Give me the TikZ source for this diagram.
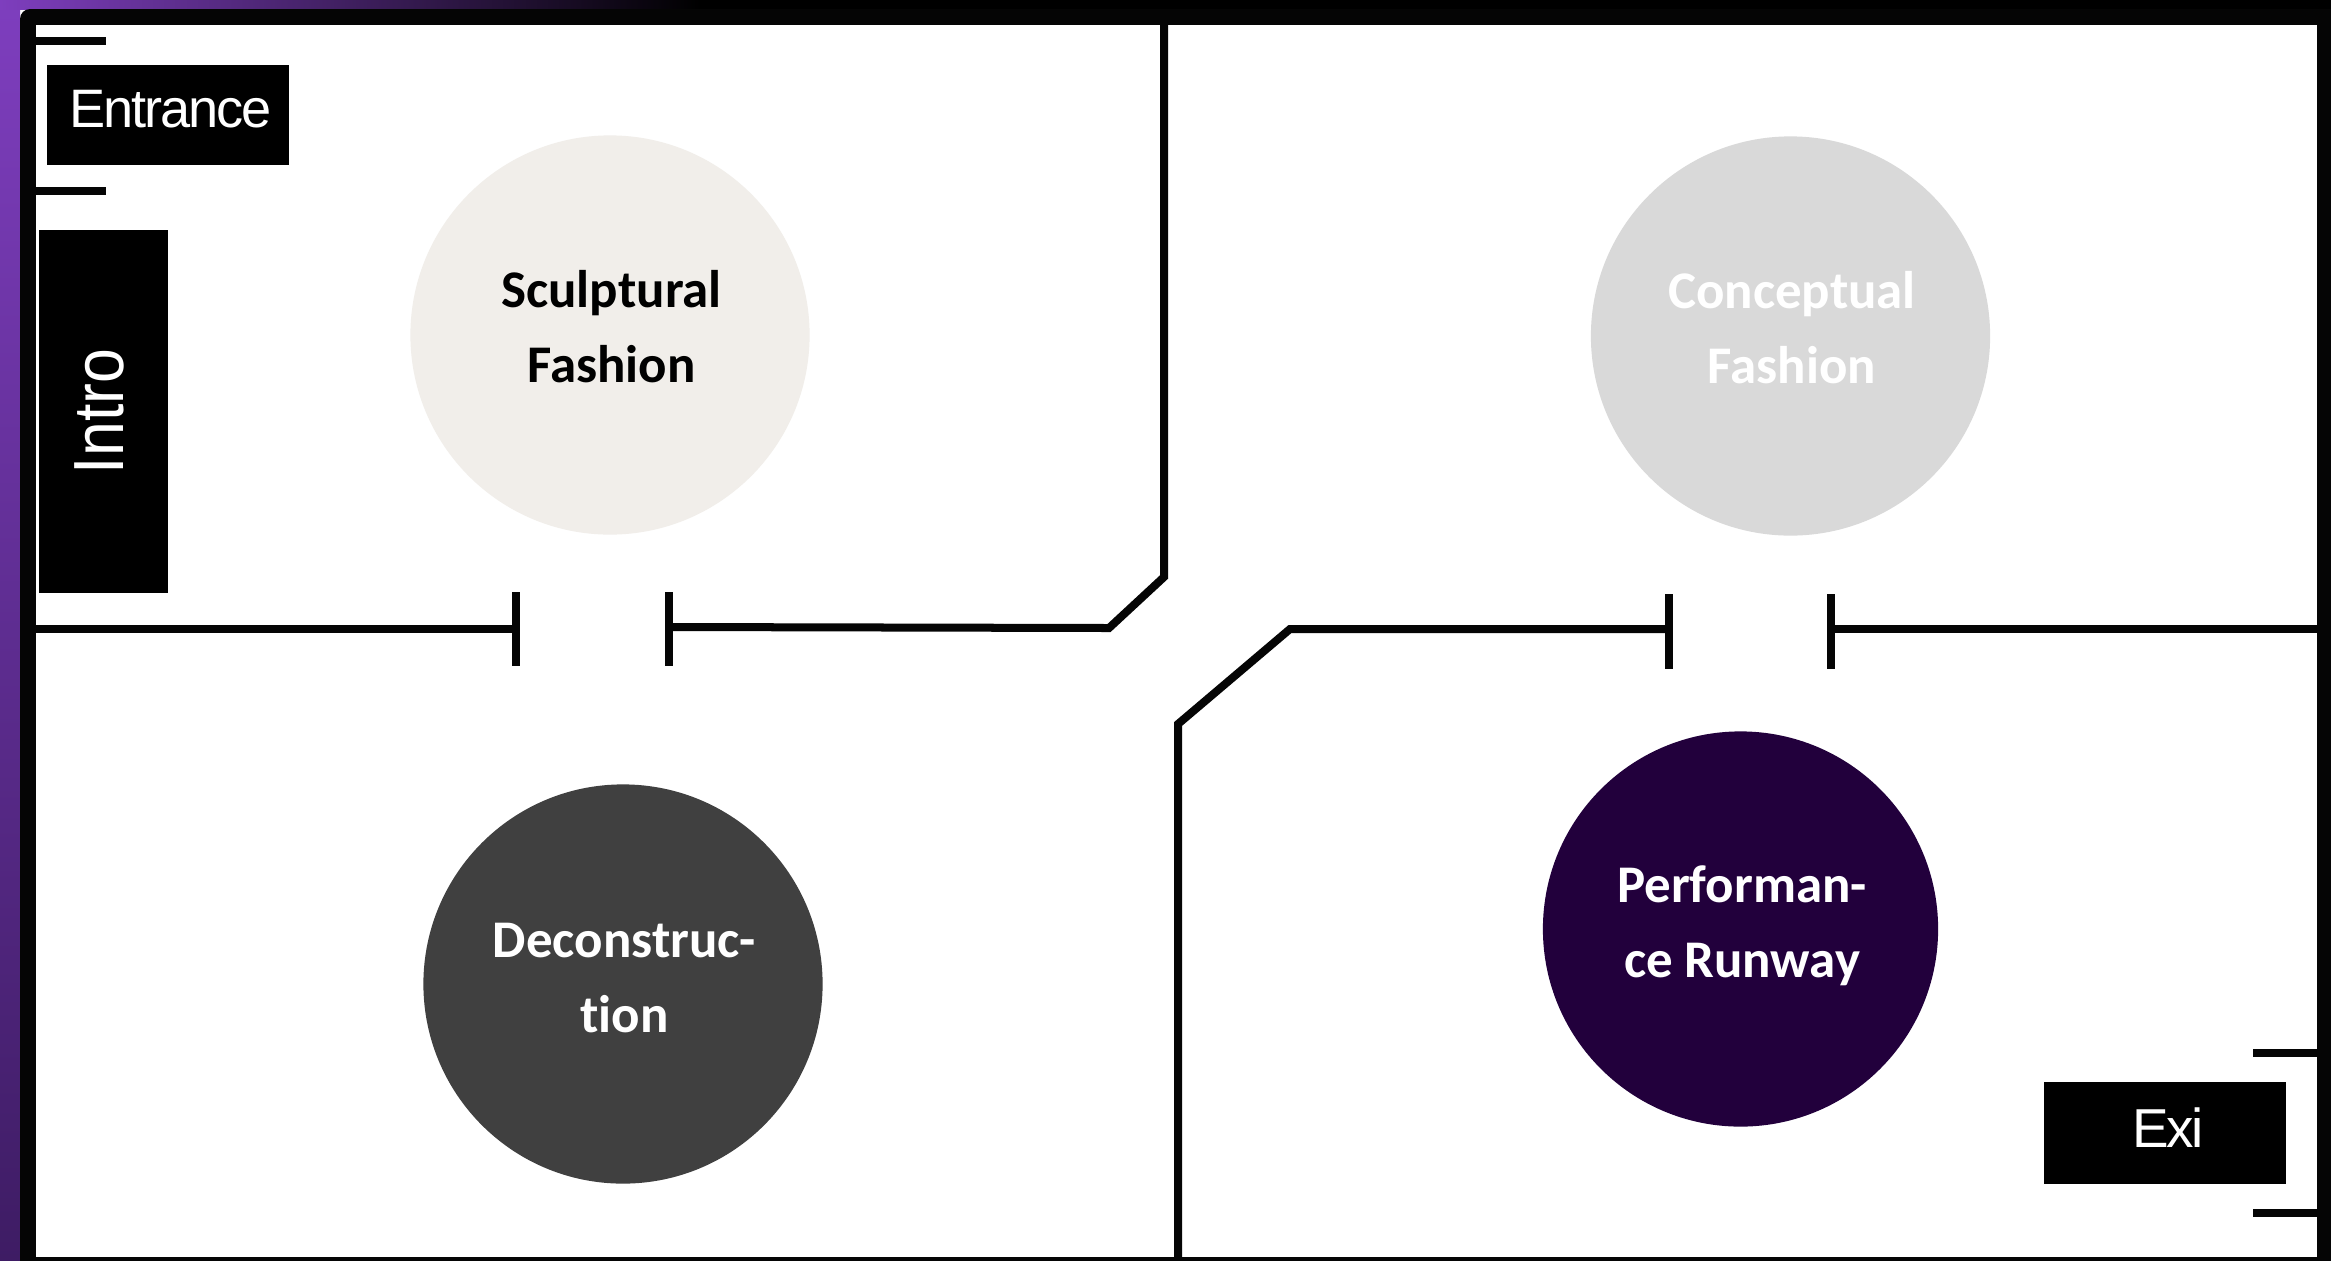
\documentclass[tikz,border=0pt]{standalone}
\usepackage{fontspec}
\setmainfont{Liberation Sans}
\newfontfamily\signfont[LetterSpace=-4]{Liberation Sans}
\newfontfamily\carlitofont[Ligatures=NoCommon]{Carlito}
\usetikzlibrary{positioning, calc}
\definecolor{FrameBlack}{HTML}{050505}
\definecolor{BrightPurple}{HTML}{8C45CC}
\definecolor{TopPurple}{HTML}{7E3EBE}
\definecolor{DarkPurple}{HTML}{3E1C64}
\definecolor{Ivory}{HTML}{F1EEEA}
\definecolor{LightGray}{HTML}{D9D9D9}
\definecolor{Charcoal}{HTML}{404040}
\definecolor{Aubergine}{HTML}{22003C}

\begin{document}
\begin{tikzpicture}[
    x=0.01cm, y=-0.01cm,
    wall/.style={draw=FrameBlack, line width=0.08cm},
    room/.style={circle, minimum size=3.99cm, inner sep=0pt},
    roomtext/.style={inner sep=0pt, align=center, xshift=0.015cm,
                 font=\carlitofont\fontsize{15.05}{21.3}\selectfont\bfseries},
    sign/.style={rectangle, fill=black, text=white, inner sep=0pt,
                 font=\signfont\fontsize{15.6}{18}\selectfont}
]
    \useasboundingbox (0,0) rectangle (2331,1260);

    % Backdrop and frame
    \shade[top color=TopPurple, middle color=BrightPurple, bottom color=DarkPurple] (0,0) rectangle (20,1260);
    \shade[left color=TopPurple, right color=black] (0,0) rectangle (700,9);
    \fill[black] (700,0) rectangle (2331,9);
    \fill[FrameBlack, rounded corners=0.1cm] (20,9) rectangle (2350,1280);
    \fill[white] (36,25) rectangle (2317,1257);

    % Rooms
    \node[room, fill=Ivory] (sculptural) at (610,335) {};
    \node[roomtext, yshift=0.085cm] (sculpturaltext) at (sculptural) {Sculptural\\Fashion};
    \node[room, fill=LightGray] (conceptual) at (1790.5,336) {};
    \node[roomtext, yshift=0.085cm, text=white] (conceptualtext) at (conceptual) {Conceptual\\Fashion};
    \node[room, fill=Charcoal] (deconstruction) at (623,984) {};
    \node[roomtext, yshift=0.06cm, text=white] (deconstructiontext) at (deconstruction) {Deconstruc-\\tion};
    \node[room, fill=Aubergine, minimum size=3.95cm] (performance) at (1740.5,929) {};
    \node[roomtext, yshift=0.03cm, text=white] (performancetext) at (performance) {Performan-\\ce Runway};

    % Entrance and exit stubs
    \draw[wall] (36,41) -- (106,41);
    \draw[wall] (36,191) -- (106,191);
    \draw[wall] (2253,1053) -- (2317,1053);
    \draw[wall] (2253,1213) -- (2317,1213);

    % Signs
    \node[sign, minimum width=2.42cm, minimum height=1cm, text height=0.62cm, text depth=0.38cm,
          font=\signfont\fontsize{15.4}{18}\selectfont] (entrance) at (168,115) {\hspace{0.05cm}Entrance};
    \node[sign, rotate=90, minimum width=3.63cm, minimum height=1.29cm, text height=0.84cm, text depth=0.45cm,
          font=\fontsize{20.2}{22}\selectfont] (intro) at (103.5,411.5) {\scalebox{0.88}[1]{Intro}\hspace{0.14cm}};
    \node[sign, minimum width=2.42cm, minimum height=1.02cm, text height=0.65cm, text depth=0.37cm] (exit) at (2165,1133) {\hspace{0.06cm}Exi};

    % Walls, upper left
    \draw[wall] (1164,25) -- (1164,577) -- (1109,628) -- (669,627);
    \draw[wall] (669,592) -- (669,666);
    \draw[wall] (515.5,592) -- (515.5,666);
    \draw[wall] (36,629) -- (515.5,629);

    % Walls, lower right
    \draw[wall] (1178,1257) -- (1178,724) -- (1290,629) -- (1669,629);
    \draw[wall] (1669,594) -- (1669,669);
    \draw[wall] (1831,594) -- (1831,669);
    \draw[wall] (1831,629) -- (2317,629);
\end{tikzpicture}
\end{document}
